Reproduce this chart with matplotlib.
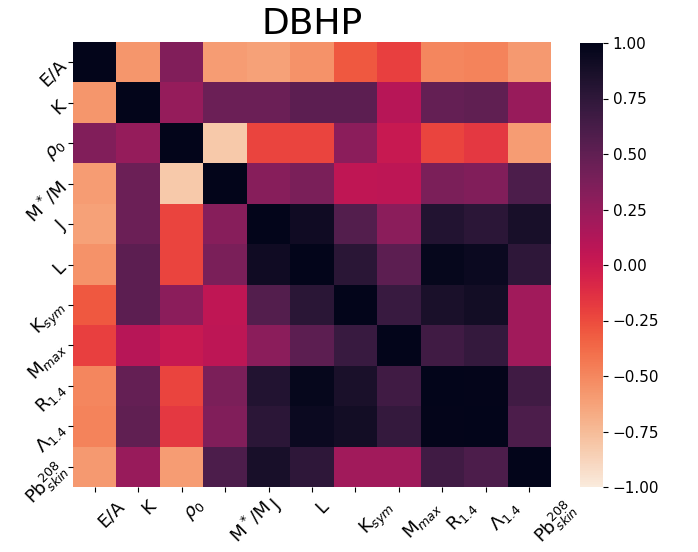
import numpy as np
import matplotlib
matplotlib.use("Agg")
import matplotlib.pyplot as plt
import seaborn as sns

labels = ["E/A", "K", r"$\rho_0$", r"M$^*$/M", "J", "L", r"K$_{sym}$",
          r"M$_{max}$", r"R$_{1.4}$", r"$\Lambda_{1.4}$", r"Pb$^{208}_{skin}$"]

# correlation matrix
corr = [
    [1.00, -0.57, 0.35, -0.60, -0.62, -0.55, -0.30, -0.20, -0.50, -0.48, -0.58],
    [-0.57, 1.00, 0.25, 0.45, 0.45, 0.52, 0.52, 0.10, 0.48, 0.50, 0.24],
    [0.35, 0.25, 1.00, -0.82, -0.22, -0.22, 0.30, 0.02, -0.22, -0.17, -0.60],
    [-0.60, 0.45, -0.82, 1.00, 0.32, 0.38, 0.06, 0.07, 0.37, 0.35, 0.60],
    [-0.62, 0.45, -0.22, 0.32, 1.00, 0.92, 0.57, 0.30, 0.82, 0.77, 0.87],
    [-0.55, 0.52, -0.22, 0.38, 0.92, 1.00, 0.78, 0.52, 0.97, 0.94, 0.75],
    [-0.30, 0.52, 0.30, 0.06, 0.57, 0.78, 1.00, 0.70, 0.86, 0.90, 0.20],
    [-0.20, 0.10, 0.02, 0.07, 0.30, 0.52, 0.70, 1.00, 0.66, 0.72, 0.20],
    [-0.50, 0.48, -0.22, 0.37, 0.82, 0.97, 0.86, 0.66, 1.00, 0.99, 0.66],
    [-0.48, 0.50, -0.17, 0.35, 0.77, 0.94, 0.90, 0.72, 0.99, 1.00, 0.60],
    [-0.58, 0.24, -0.60, 0.60, 0.87, 0.75, 0.20, 0.20, 0.66, 0.60, 1.00],
]

fig = plt.figure(figsize=(6.98, 5.52), dpi=100)
ax = fig.add_axes([73/698, 1-487/552, 478/698, 445/552])
cax = fig.add_axes([580/698, 1-487/552, 23/698, 444/552])

sns.heatmap(np.array(corr), vmin=-1, vmax=1, cmap="rocket_r", ax=ax, cbar_ax=cax,
            xticklabels=labels, yticklabels=labels)

ax.set_title("DBHP", fontsize=26)
plt.setp(ax.get_xticklabels(), rotation=45, ha="left", fontsize=13)
plt.setp(ax.get_yticklabels(), rotation=45, ha="right", va="center",
         rotation_mode="anchor", fontsize=13)
cax.tick_params(labelsize=11)

fig.savefig("out.png", dpi=100)
